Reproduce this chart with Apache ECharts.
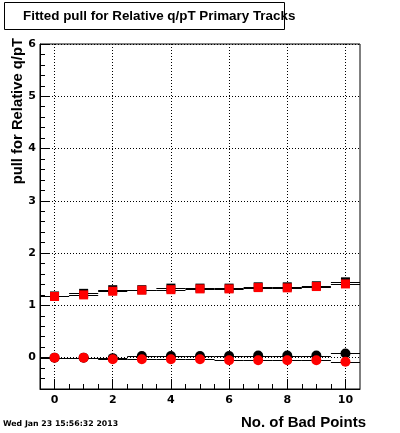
<!DOCTYPE html>
<html><head><meta charset="utf-8">
<script src="https://cdn.jsdelivr.net/npm/echarts@6/dist/echarts.min.js"></script>
<style>html,body{margin:0;padding:0;background:#fff}#c{width:400px;height:433px}</style>
</head><body><div id="c"></div>
<script>
const bins = [0, 1, 2, 3, 4, 5, 6, 7, 8, 9, 10];
const blackSquares = [1.18, 1.23, 1.30, 1.30, 1.33, 1.33, 1.33, 1.355, 1.355, 1.375, 1.45];
const redSquares   = [1.17, 1.20, 1.27, 1.29, 1.30, 1.315, 1.315, 1.34, 1.335, 1.36, 1.41];
const blackCircles = [0.00, 0.00, -0.01, 0.03, 0.03, 0.03, 0.03, 0.04, 0.04, 0.04, 0.08];
const redCircles   = [0.00, 0.00, -0.03, -0.03, -0.03, -0.03, -0.05, -0.05, -0.05, -0.05, -0.08];
const xMajorTicks = [0, 2, 4, 6, 8, 10];
const xMinorTicks = [0.5, 1, 1.5, 2.5, 3, 3.5, 4.5, 5, 5.5, 6.5, 7, 7.5, 8.5, 9, 9.5, 10];
const yMajorTicks = [0, 1, 2, 3, 4, 5, 6];
const yMinorTicks = [-0.4, -0.2, 0.2, 0.4, 0.6, 0.8, 1.2, 1.4, 1.6, 1.8, 2.2, 2.4, 2.6, 2.8, 3.2, 3.4, 3.6, 3.8, 4.2, 4.4, 4.6, 4.8, 5.2, 5.4, 5.6, 5.8];
const titleText = 'Fitted pull for Relative q/pT Primary Tracks';
const xTitle = 'No. of Bad Points';
const yTitle = 'pull for Relative q/pT';
const dateText = 'Wed Jan 23 15:56:32 2013';

const X_MIN = -0.5, X_MAX = 10.5, Y_MIN = -0.6, Y_MAX = 6;
const labelFont = {color: '#000', fontFamily: 'DejaVu Sans', fontWeight: 'bold', fontSize: 11};

function pairs(vals) { return bins.map((b, i) => [b, vals[i]]); }

function hbarSeries(vals) {
  return {
    type: 'custom', silent: true, z: 2, xAxisIndex: 0, yAxisIndex: 0,
    data: pairs(vals),
    renderItem: function (params, api) {
      const x = api.value(0), y = api.value(1);
      const p1 = api.coord([x - 0.5, y]);
      const p2 = api.coord([x + 0.5, y]);
      const yy = Math.round(p1[1]) + 0.5;
      return {type: 'line', shape: {x1: p1[0], y1: yy, x2: p2[0], y2: yy},
        style: {stroke: '#000', lineWidth: 1}};
    }
  };
}

function scatter(vals, symbol, size, color, z) {
  return {type: 'scatter', data: pairs(vals), symbol: symbol, symbolSize: size,
    itemStyle: {color: color, opacity: 1}, z: z, silent: true, animation: false,
    xAxisIndex: 0, yAxisIndex: 0};
}

const chart = echarts.init(document.getElementById('c'), null, {renderer: 'canvas'});
chart.setOption({
  animation: false,
  backgroundColor: '#fff',
  grid: {left: 40, right: 40, top: 44, bottom: 44, show: true, borderColor: '#000', borderWidth: 1, backgroundColor: '#fff'},
  xAxis: [
    {type: 'value', min: X_MIN, max: X_MAX, position: 'bottom',
      axisLine: {show: true, onZero: false, lineStyle: {color: '#000', width: 1}},
      axisTick: {show: true, inside: true, length: 10, customValues: xMajorTicks, lineStyle: {color: '#000'}},
      axisLabel: {show: true, margin: 6, customValues: xMajorTicks, ...labelFont},
      splitLine: {show: true, lineStyle: {color: '#000', type: [1, 2], width: 1}}},
    {type: 'value', min: X_MIN, max: X_MAX, position: 'bottom',
      axisLine: {show: false, onZero: false},
      axisTick: {show: true, inside: true, length: 5, customValues: xMinorTicks, lineStyle: {color: '#000'}},
      axisLabel: {show: false}, splitLine: {show: false}}
  ],
  yAxis: [
    {type: 'value', min: Y_MIN, max: Y_MAX, position: 'left',
      axisLine: {show: true, onZero: false, lineStyle: {color: '#000', width: 1}},
      axisTick: {show: true, inside: true, length: 10, customValues: yMajorTicks, lineStyle: {color: '#000'}},
      axisLabel: {show: true, margin: 4, customValues: yMajorTicks, ...labelFont},
      splitLine: {show: true, lineStyle: {color: '#000', type: [1, 2], width: 1}}},
    {type: 'value', min: Y_MIN, max: Y_MAX, position: 'left',
      axisLine: {show: false, onZero: false},
      axisTick: {show: true, inside: true, length: 5, customValues: yMinorTicks, lineStyle: {color: '#000'}},
      axisLabel: {show: false}, splitLine: {show: false}}
  ],
  series: [
    hbarSeries(blackSquares), hbarSeries(redSquares), hbarSeries(blackCircles), hbarSeries(redCircles),
    scatter(blackSquares, 'rect', 9, '#000000', 3),
    scatter(redSquares, 'rect', 9, '#ff0000', 4),
    scatter(blackCircles, 'circle', 10, '#000000', 3),
    scatter(redCircles, 'circle', 10, '#ff0000', 4)
  ],
  graphic: [
    {type: 'rect', shape: {x: 4.5, y: 2.5, width: 280, height: 27}, style: {fill: '#fff', stroke: '#000', lineWidth: 1}, z: 10},
    {type: 'text', x: 23, y: 16, z: 11, style: {text: titleText, fill: '#000', font: 'bold 13.4px "Liberation Sans"', textAlign: 'left', textVerticalAlign: 'middle'}},
    {type: 'text', x: 366, y: 423, z: 11, style: {text: xTitle, fill: '#000', font: 'bold 15px "Liberation Sans"', textAlign: 'right', textVerticalAlign: 'middle'}},
    {type: 'text', x: 18, y: 38, rotation: Math.PI / 2, z: 11, style: {text: yTitle, fill: '#000', font: 'bold 14.8px "Liberation Sans"', textAlign: 'right', textVerticalAlign: 'middle'}},
    {type: 'text', x: 3, y: 424, z: 11, style: {text: dateText, fill: '#000', font: 'bold 7.8px "DejaVu Sans"', textAlign: 'left', textVerticalAlign: 'middle'}}
  ]
});
</script></body></html>
